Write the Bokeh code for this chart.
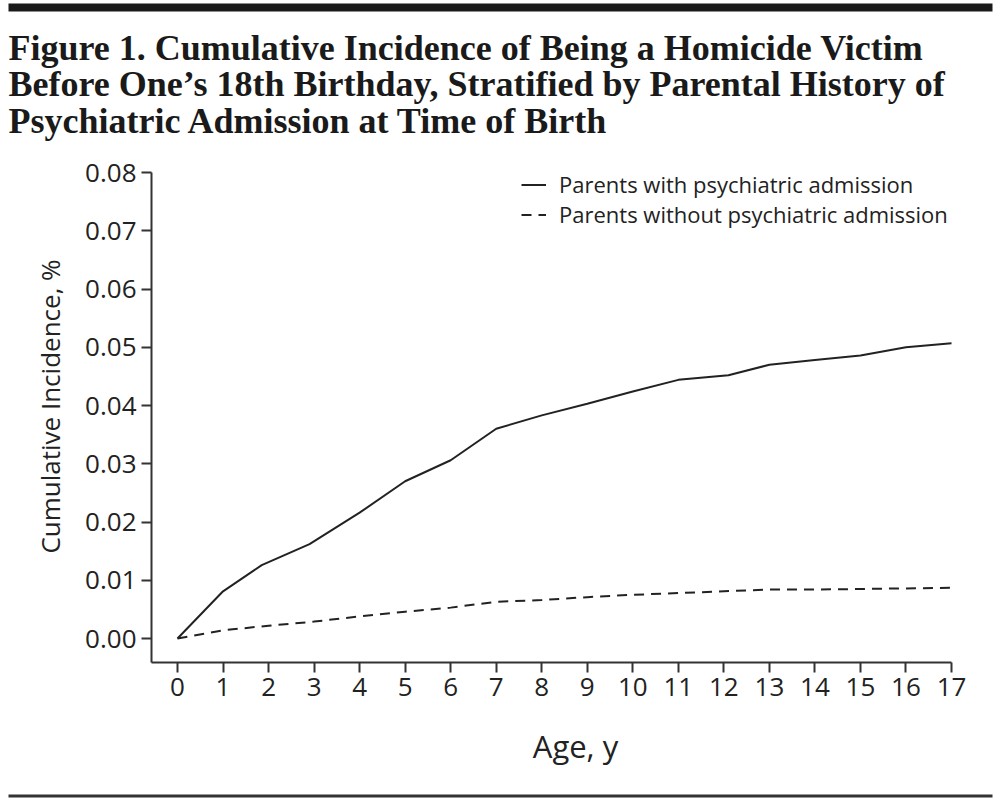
import math
from bokeh.plotting import figure
from bokeh.models import Range1d, FixedTicker, Legend, LegendItem, LinearAxis
from bokeh.core.properties import value
from bokeh.embed import file_html
from bokeh.resources import INLINE

# ---- data ----
title_lines = [
    "Figure 1. Cumulative Incidence of Being a Homicide Victim",
    "Before One\u2019s 18th Birthday, Stratified by Parental History of",
    "Psychiatric Admission at Time of Birth",
]
series_names = ["Parents with psychiatric admission", "Parents without psychiatric admission"]

ages_with = [0, 1, 1.85, 2.9, 4, 5, 6, 7, 8, 9, 10, 11, 12.1, 13, 14, 15, 16, 17]
inc_with = [0, 0.0081, 0.0126, 0.0162, 0.0216, 0.0270, 0.0306, 0.0360, 0.0383, 0.0403,
            0.0424, 0.0444, 0.0452, 0.0470, 0.0478, 0.0486, 0.0500, 0.0507]

ages_without = [0, 1, 2, 3, 4, 5, 6, 7, 8, 9, 10, 11, 12, 13, 14, 15, 16, 17]
inc_without = [0, 0.0014, 0.0022, 0.0029, 0.0038, 0.0046, 0.0053, 0.0063, 0.0066, 0.0071,
               0.0075, 0.0078, 0.0081, 0.0084, 0.0084, 0.0085, 0.0086, 0.0087]

x_ticks = list(range(0, 18))
y_ticks = [0.00, 0.01, 0.02, 0.03, 0.04, 0.05, 0.06, 0.07, 0.08]
x_label = "Age, y"
y_label = "Cumulative Incidence, %"

# ---- page geometry: the frame covers the whole canvas; axes are pinned inside it ----
INK = "#222222"
SANS = "Open Sans"
W, H = 1000, 800
X0_PX, X_PX_PER_YEAR = 177.0, 45.53      # page x of age 0, pixels per year
Y0_PX, Y_PX_PER_UNIT = 638.0, 5825.0     # page y of 0.00, pixels per unit


def x_at(px):
    return (px - X0_PX) / X_PX_PER_YEAR


def y_at(py):
    return (Y0_PX - py) / Y_PX_PER_UNIT


X_MIN, Y_MIN = x_at(151), y_at(662)      # where the two axis lines sit

p = figure(width=W, height=H, x_range=Range1d(x_at(0), x_at(W)), y_range=Range1d(y_at(H), y_at(0)),
           x_axis_type=None, y_axis_type=None, output_backend="svg", toolbar_location=None,
           min_border=0)
p.outline_line_color = None
p.grid.visible = False

xaxis = LinearAxis(fixed_location=Y_MIN, bounds=(X_MIN, x_ticks[-1]), ticker=FixedTicker(ticks=x_ticks))
yaxis = LinearAxis(fixed_location=X_MIN, bounds=(Y_MIN, y_ticks[-1]), ticker=FixedTicker(ticks=y_ticks))
yaxis.major_label_overrides = {t: f"{t:.2f}" for t in y_ticks}
for ax in (xaxis, yaxis):
    ax.axis_line_color = "#333333"
    ax.axis_line_width = 2
    ax.major_tick_line_color = "#333333"
    ax.major_tick_line_width = 2
    ax.major_tick_out = 10
    ax.major_tick_in = 0
    ax.minor_tick_line_color = None
    ax.major_label_text_font = SANS
    ax.major_label_text_font_size = "26px"
    ax.major_label_text_color = INK
    ax.major_label_standoff = 5
p.add_layout(xaxis, "below")
p.add_layout(yaxis, "left")

r1 = p.line(ages_with, inc_with, line_color=INK, line_width=2)
r2 = p.line(ages_without, inc_without, line_color=INK, line_width=2, line_dash="10 7")

# axis titles
p.text(x=[x_at(575)], y=[y_at(745)], text=[x_label], text_font=value(SANS),
       text_font_size="31px", text_color=INK, text_align="center", text_baseline="middle")
p.text(x=[x_at(49)], y=[y_at(406)], text=[y_label], text_font=value(SANS), angle=math.pi / 2,
       text_font_size="26px", text_color=INK, text_align="center", text_baseline="middle")

legend = Legend(items=[LegendItem(label=series_names[0], renderers=[r1]),
                       LegendItem(label=series_names[1], renderers=[r2])],
                location=(521, H - 229), margin=0, padding=0, spacing=0,
                glyph_width=25, glyph_height=29, label_height=29, label_standoff=13,
                label_text_font=SANS, label_text_font_size="22px", label_text_color=INK,
                border_line_color=None, background_fill_alpha=0)
p.add_layout(legend)

# header rule, title and footer rule
p.quad(left=[x_at(8)], right=[x_at(992)], top=[y_at(3)], bottom=[y_at(11)],
       fill_color="#1a1a1a", line_color=None)
p.quad(left=[x_at(8)], right=[x_at(992)], top=[y_at(794)], bottom=[y_at(797)],
       fill_color="#333333", line_color=None)
p.text(x=[x_at(8)] * 3, y=[y_at(47), y_at(83.5), y_at(120)], text=title_lines,
       text_font=value("Liberation Serif"), text_font_style="bold", text_font_size="36px",
       text_color="#1a1a1a", text_align="left", text_baseline="alphabetic")

open("out.html", "w").write(file_html(p, INLINE))
